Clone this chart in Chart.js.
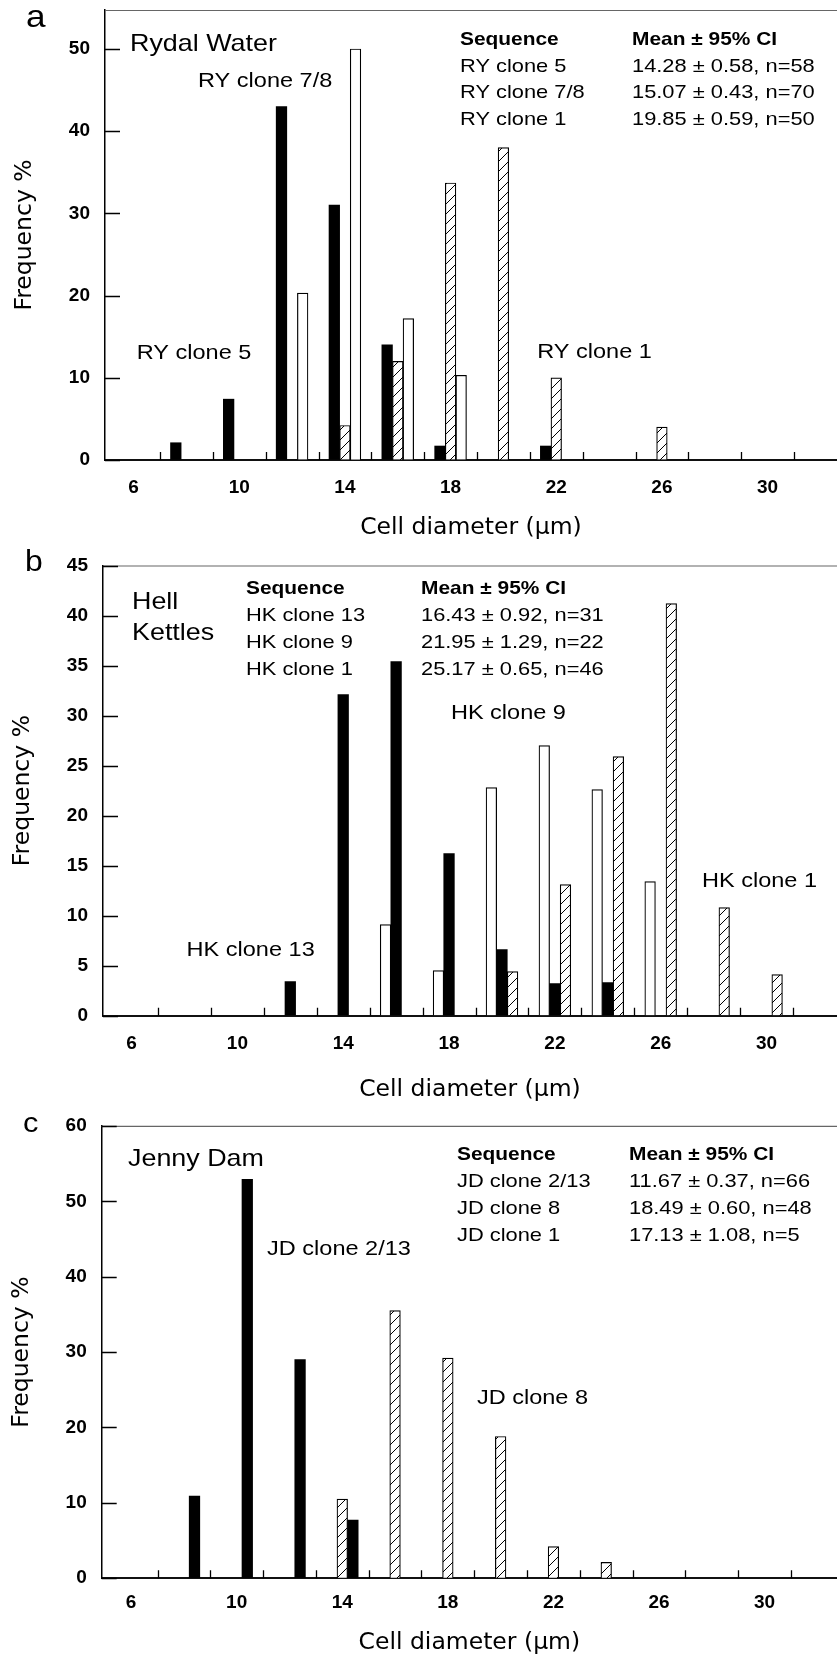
<!DOCTYPE html>
<html lang="en">
<head>
<meta charset="UTF-8">
<title>Cell diameter frequency distributions</title>
<script src="https://cdn.jsdelivr.net/npm/chart.js@4.4.1/dist/chart.umd.min.js"></script>
<style>
  html, body { margin: 0; padding: 0; background: #fff; }
  body { width: 837px; height: 1661px; position: relative; overflow: hidden; }
  canvas { position: absolute; left: 0; display: block; }
</style>
</head>
<body>
<canvas id="chartA" width="837" height="545" style="top:0"></canvas>
<canvas id="chartB" width="837" height="560" style="top:545px"></canvas>
<canvas id="chartC" width="837" height="556" style="top:1105px"></canvas>

<script>
// size classes (um), 2 um wide bins
const diameters = [6, 8, 10, 12, 14, 16, 18, 20, 22, 24, 26, 28, 30, 32];
const xLabelValues = [6, 10, 14, 18, 22, 26, 30];

// a - Rydal Water (frequency %)
const ryClone5  = [null, 2.1, 7.4, 43.0, 31.0, 14.0, 1.7, null, 1.7, null, null, null, null, null];
const ryClone1  = [null, null, null, null, 4.2, 12.0, 33.7, 38.0, 10.0, null, 4.0, null, null, null];
const ryClone78 = [null, null, null, 20.3, 50.0, 17.2, 10.3, null, null, null, null, null, null, null];
const ryTicks = [0, 10, 20, 30, 40, 50];
const ryTable = [
  ['Sequence', 'Mean \u00b1 95% CI'],
  ['RY clone 5', '14.28 \u00b1 0.58, n=58'],
  ['RY clone 7/8', '15.07 \u00b1 0.43, n=70'],
  ['RY clone 1', '19.85 \u00b1 0.59, n=50']
];

// b - Hell Kettles
const hkClone9  = [null, null, null, null, null, 9.1, 4.5, 22.8, 27.0, 22.6, 13.4, null, null, null];
const hkClone13 = [null, null, null, 3.4, 32.1, 35.4, 16.2, 6.6, 3.2, 3.3, null, null, null, null];
const hkClone1  = [null, null, null, null, null, null, null, 4.4, 13.1, 25.9, 41.2, 10.8, 4.1, null];
const hkTicks = [0, 5, 10, 15, 20, 25, 30, 35, 40, 45];
const hkTable = [
  ['Sequence', 'Mean \u00b1 95% CI'],
  ['HK clone 13', '16.43 \u00b1 0.92, n=31'],
  ['HK clone 9', '21.95 \u00b1 1.29, n=22'],
  ['HK clone 1', '25.17 \u00b1 0.65, n=46']
];

// c - Jenny Dam (clone 1 is in the table but has no bars)
const jdClone1   = [null, null, null, null, null, null, null, null, null, null, null, null, null, null];
const jdClone8   = [null, null, null, null, 10.5, 35.5, 29.2, 18.8, 4.2, 2.1, null, null, null, null];
const jdClone213 = [null, 10.9, 52.9, 29.0, 7.7, null, null, null, null, null, null, null, null, null];
const jdTicks = [0, 10, 20, 30, 40, 50, 60];
const jdTable = [
  ['Sequence', 'Mean \u00b1 95% CI'],
  ['JD clone 2/13', '11.67 \u00b1 0.37, n=66'],
  ['JD clone 8', '18.49 \u00b1 0.60, n=48'],
  ['JD clone 1', '17.13 \u00b1 1.08, n=5']
];

// tick marks sit on the bin edges
const binEdges = diameters.slice(0, -1).map(d => d + 1);

const tickFont = { family: 'Liberation Sans', size: 19, weight: 'bold' };
const titleFont = { family: 'DejaVu Sans', size: 23.5 };

function makeHatch() {
  const c = document.createElement('canvas');
  c.width = 10; c.height = 10;
  const g = c.getContext('2d');
  g.fillStyle = '#fff';
  g.fillRect(0, 0, 10, 10);
  g.strokeStyle = '#000';
  g.lineWidth = 1;
  g.beginPath();
  g.moveTo(0, 10); g.lineTo(10, 0);
  g.moveTo(-1, 1); g.lineTo(1, -1);
  g.moveTo(9, 11); g.lineTo(11, 9);
  g.stroke();
  return g.createPattern(c, 'repeat');
}
const hatch = makeHatch();

function fillFor(kind) {
  if (kind === 'black') return '#000';
  if (kind === 'white') return '#fff';
  return hatch;
}

// text a little wider than Helvetica, like the scanned figure
function drawText(ctx, text, x, y, font, sx, baseline) {
  ctx.save();
  ctx.translate(x, y);
  ctx.scale(sx, 1);
  ctx.font = font;
  ctx.fillStyle = '#000';
  ctx.textAlign = 'left';
  ctx.textBaseline = baseline || 'middle';
  ctx.fillText(text, 0, 0);
  ctx.restore();
}

function framePlugin(p) {
  return {
    id: 'frame_' + p.letter,
    afterDraw(chart) {
      const ctx = chart.ctx;
      const ca = chart.chartArea;
      const xs = chart.scales.x;
      const ys = chart.scales.y;
      ctx.save();
      // top edge of the box
      ctx.strokeStyle = '#666';
      ctx.lineWidth = 1.2;
      ctx.beginPath();
      ctx.moveTo(ca.left, ca.top + 0.5);
      ctx.lineTo(ca.right, ca.top + 0.5);
      ctx.stroke();
      // inward tick marks
      ctx.strokeStyle = '#000';
      ctx.lineWidth = 1.3;
      ctx.beginPath();
      binEdges.forEach(v => {
        const x = Math.round(xs.getPixelForValue(v)) + 0.5;
        ctx.moveTo(x, ca.bottom);
        ctx.lineTo(x, ca.bottom - 8);
      });
      p.yTicks.forEach(v => {
        const y = Math.round(ys.getPixelForValue(v)) + 0.5;
        ctx.moveTo(ca.left, y);
        ctx.lineTo(ca.left + 15, y);
      });
      ctx.stroke();
      ctx.restore();

      // panel letter
      drawText(ctx, p.letter, p.letterPos[0], p.letterPos[1], p.letterSize + 'px "Liberation Sans"', 1.1, 'alphabetic');
      // site name
      p.site.forEach((s, i) => drawText(ctx, s, p.siteX, p.siteY[i], '24px "Liberation Sans"', 1.12));
      // mean table
      p.table.forEach((row, i) => {
        const y = p.tableY + i * p.tableDy;
        const f = i === 0 ? 'bold 19px "Liberation Sans"' : '19px "Liberation Sans"';
        const sx = i === 0 ? 1.1 : 1.15;
        drawText(ctx, row[0], p.tableX[0], y, f, sx);
        drawText(ctx, row[1], p.tableX[1], y, f, sx);
      });
      // clone labels, placed in data space
      p.notes.forEach(n => {
        drawText(ctx, n[0], xs.getPixelForValue(n[1]), ys.getPixelForValue(n[2]), '21px "Liberation Sans"', 1.12);
      });
    }
  };
}

function noScalePadding(sc) {
  sc.paddingTop = 0;
  sc.paddingBottom = 0;
  sc.paddingLeft = 0;
  sc.paddingRight = 0;
}

function makeChart(p) {
  return new Chart(document.getElementById(p.id), {
    type: 'bar',
    data: {
      datasets: p.series.map(s => ({
        label: s.label,
        data: diameters.map((d, i) => ({ x: d, y: s.values[i] })),
        backgroundColor: fillFor(s.fill),
        borderColor: '#000',
        borderWidth: s.fill === 'black' ? 0 : 1.2,
        barThickness: 10.6
      }))
    },
    options: {
      responsive: false,
      animation: false,
      layout: { autoPadding: false, padding: { top: p.padTop, left: 0, right: 0, bottom: 0 } },
      plugins: { legend: { display: false }, tooltip: { enabled: false } },
      scales: {
        x: {
          type: 'linear',
          min: p.xMin,
          max: p.xMax,
          bounds: 'data',
          offset: false,
          grid: { offset: false, drawOnChartArea: false, drawTicks: false },
          border: { color: '#111', width: 2 },
          afterBuildTicks: sc => { sc.ticks = xLabelValues.map(v => ({ value: v })); },
          afterFit: sc => { sc.height = p.xHeight; noScalePadding(sc); },
          ticks: {
            autoSkip: false, maxRotation: 0, minRotation: 0,
            padding: p.xLabelPad, color: '#000', font: tickFont,
            callback: v => String(v)
          },
          title: {
            display: true, text: 'Cell diameter (\u00b5m)', color: '#000', font: titleFont,
            padding: { top: 0, bottom: p.xTitlePad }
          }
        },
        y: {
          min: 0,
          max: p.yMax,
          bounds: 'data',
          grid: { drawOnChartArea: false, drawTicks: false },
          border: { color: '#000', width: 1.5 },
          afterBuildTicks: sc => { sc.ticks = p.yTicks.map(v => ({ value: v })); },
          afterFit: sc => { sc.width = p.yWidth; noScalePadding(sc); },
          ticks: { padding: 15, color: '#000', font: tickFont, callback: v => String(v) },
          title: {
            display: true, text: 'Frequency %', color: '#000', font: titleFont,
            padding: { top: p.yTitlePad, bottom: 0 }
          }
        }
      }
    },
    plugins: [framePlugin(p)]
  });
}

const panels = [
  {
    id: 'chartA', letter: 'a', letterPos: [26, 26.7], letterSize: 32,
    series: [
      { label: 'RY clone 5', values: ryClone5, fill: 'black' },
      { label: 'RY clone 1', values: ryClone1, fill: 'hatch' },
      { label: 'RY clone 7/8', values: ryClone78, fill: 'white' }
    ],
    xMin: 4.918, xMax: 32.627, yMax: 54.74, yTicks: ryTicks,
    yWidth: 105, xHeight: 85, padTop: 10, xLabelPad: 16.6, xTitlePad: 2.9, yTitlePad: 10.9,
    site: ['Rydal Water'], siteX: 130, siteY: [44],
    table: ryTable, tableX: [460, 632], tableY: 40, tableDy: 26.5,
    notes: [['RY clone 7/8', 8.44, 46.1], ['RY clone 5', 6.12, 13.0], ['RY clone 1', 21.28, 13.1]]
  },
  {
    id: 'chartB', letter: 'b', letterPos: [25, 26.4], letterSize: 29,
    series: [
      { label: 'HK clone 9', values: hkClone9, fill: 'white' },
      { label: 'HK clone 13', values: hkClone13, fill: 'black' },
      { label: 'HK clone 1', values: hkClone1, fill: 'hatch' }
    ],
    xMin: 4.921, xMax: 32.663, yMax: 45, yTicks: hkTicks,
    yWidth: 103, xHeight: 89.3, padTop: 20.5, xLabelPad: 16.2, xTitlePad: 0.9, yTitlePad: 8.9,
    site: ['Hell', 'Kettles'], siteX: 132, siteY: [57, 88],
    table: hkTable, tableX: [246, 421], tableY: 43.6, tableDy: 27,
    notes: [['HK clone 13', 8.08, 6.5], ['HK clone 9', 18.07, 30.2], ['HK clone 1', 27.56, 13.4]]
  },
  {
    id: 'chartC', letter: 'c', letterPos: [23, 27], letterSize: 28,
    series: [
      { label: 'JD clone 1', values: jdClone1, fill: 'white' },
      { label: 'JD clone 8', values: jdClone8, fill: 'hatch' },
      { label: 'JD clone 2/13', values: jdClone213, fill: 'black' }
    ],
    xMin: 4.886, xMax: 32.742, yMax: 60, yTicks: jdTicks,
    yWidth: 101.7, xHeight: 82.8, padTop: 20.9, xLabelPad: 12.8, xTitlePad: 4.3, yTitlePad: 7.9,
    site: ['Jenny Dam'], siteX: 128, siteY: [54.7],
    table: jdTable, tableX: [457, 629], tableY: 50, tableDy: 27,
    notes: [['JD clone 2/13', 11.15, 43.6], ['JD clone 8', 19.10, 23.9]]
  }
];

panels.forEach(makeChart);
</script>
</body>
</html>
